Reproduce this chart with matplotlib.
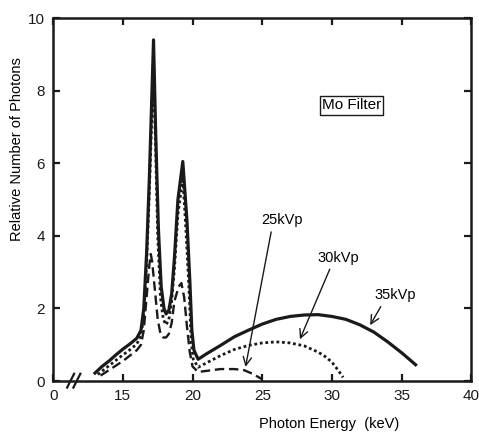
import matplotlib.pyplot as plt
import matplotlib.lines as mlines

plt.rcParams['font.family'] = ['Liberation Sans', 'DejaVu Sans']

# 35 kVp spectrum (solid)
x35 = [13.0, 13.5, 14.0, 14.5, 15.0, 15.5, 16.0, 16.3, 16.5, 16.7, 16.9, 17.05, 17.2,
       17.35, 17.55, 17.75, 17.95, 18.1, 18.3, 18.5, 18.7, 18.95, 19.3, 19.6, 19.8,
       19.95, 20.1, 20.4, 21.0, 22.0, 23.0, 24.0, 25.0, 26.0, 27.0, 28.0, 29.0, 30.0,
       31.0, 32.0, 33.0, 34.0, 35.0, 36.0]
y35 = [0.22, 0.4, 0.55, 0.72, 0.88, 1.02, 1.18, 1.4, 2.0, 3.5, 5.6, 7.5, 9.4,
       6.9, 4.2, 2.6, 2.0, 1.85, 1.95, 2.4, 3.4, 5.0, 6.05, 4.4, 2.8,
       1.4, 0.85, 0.6, 0.75, 0.98, 1.22, 1.4, 1.57, 1.7, 1.78, 1.82, 1.83, 1.78,
       1.7, 1.55, 1.35, 1.08, 0.78, 0.45]

# 30 kVp spectrum (dotted)
x30 = [13.2, 14.0, 15.0, 15.5, 16.0, 16.3, 16.5, 16.7, 16.9, 17.05, 17.2, 17.35,
       17.5, 17.7, 17.9, 18.1, 18.3, 18.5, 18.7, 18.95, 19.3, 19.55, 19.75, 19.9,
       20.05, 20.4, 21.0, 22.0, 23.0, 24.0, 25.0, 26.0, 27.0, 28.0, 29.0, 29.5,
       30.0, 30.5, 30.8]
y30 = [0.18, 0.42, 0.72, 0.86, 1.02, 1.25, 1.8, 3.2, 5.2, 7.0, 8.6, 6.4,
       4.0, 2.3, 1.7, 1.55, 1.7, 2.2, 3.1, 4.6, 5.6, 4.0, 2.5, 1.1,
       0.6, 0.38, 0.5, 0.7, 0.87, 0.98, 1.05, 1.08, 1.05, 0.97, 0.8, 0.68,
       0.52, 0.27, 0.1]

# 25 kVp spectrum (dashed)
x25 = [13.4, 14.0, 15.0, 15.5, 16.0, 16.3, 16.5, 16.7, 16.9, 17.0, 17.1, 17.3,
       17.5, 17.7, 17.9, 18.1, 18.3, 18.5, 18.7, 19.0, 19.2, 19.4, 19.6, 19.8,
       20.0, 20.4, 21.0, 22.0, 23.0, 23.7, 24.3, 25.0]
y25 = [0.15, 0.3, 0.55, 0.7, 0.85, 1.0, 1.4, 2.3, 3.2, 3.5, 3.3, 2.5,
       1.7, 1.3, 1.2, 1.2, 1.3, 1.6, 2.2, 2.6, 2.7, 2.3, 1.5, 0.8,
       0.4, 0.25, 0.28, 0.33, 0.33, 0.3, 0.2, 0.05]

xticks = [10, 15, 20, 25, 30, 35, 40]
xtick_labels = ['0', '15', '20', '25', '30', '35', '40']
yticks = [0, 2, 4, 6, 8, 10]

fig = plt.figure(figsize=(4.79, 4.33), dpi=100)
ax = fig.add_axes([0.111, 0.12, 0.873, 0.838])

ax.plot(x35, y35, color='#1a1a1a', linestyle='-', linewidth=2.3)
ax.plot(x30, y30, color='#1a1a1a', linestyle=(0, (1.0, 1.0)), linewidth=2.0)
ax.plot(x25, y25, color='#1a1a1a', linestyle=(0, (4, 2)), linewidth=1.7)

ax.set_xlim(10, 40)
ax.set_ylim(0, 10)
ax.set_xticks(xticks)
ax.set_xticklabels(xtick_labels)
ax.set_yticks(yticks)
ax.tick_params(direction='in', length=5, width=1.6, top=True, right=True,
               labelsize=11, pad=6, colors='#1a1a1a')
for s in ax.spines.values():
    s.set_linewidth(1.8)
    s.set_color('#1a1a1a')

# axis break marks
for dx in [0, 0.45]:
    ax.add_line(mlines.Line2D([11.0 + dx, 11.5 + dx], [-0.18, 0.2], color='#1a1a1a',
                              linewidth=1.6, clip_on=False))

ax.set_xlabel('Photon Energy  (keV)', fontsize=10.5)
ax.xaxis.set_label_coords(0.66, -0.1)
ax.set_ylabel('Relative Number of Photons', fontsize=10.5)
ax.yaxis.set_label_coords(-0.069, 0.64)

ax.text(31.4, 7.6, 'Mo Filter', fontsize=11, ha='center', va='center',
        bbox=dict(boxstyle='square,pad=0.15', facecolor='white', edgecolor='#1a1a1a', linewidth=1.0))

arrow = dict(arrowstyle='->', color='#1a1a1a', linewidth=1.0, shrinkA=0, shrinkB=0,
             mutation_scale=15)
ax.annotate('', xy=(23.8, 0.39), xytext=(25.64, 4.11), arrowprops=arrow)
ax.text(26.4, 4.43, '25kVp', fontsize=10.5, ha='center', va='center')
ax.annotate('', xy=(27.7, 1.15), xytext=(29.84, 3.08), arrowprops=arrow)
ax.text(30.48, 3.38, '30kVp', fontsize=10.5, ha='center', va='center')
ax.annotate('', xy=(32.74, 1.54), xytext=(33.5, 2.05), arrowprops=arrow)
ax.text(34.57, 2.37, '35kVp', fontsize=10.5, ha='center', va='center')

plt.savefig('out.png', dpi=100)
